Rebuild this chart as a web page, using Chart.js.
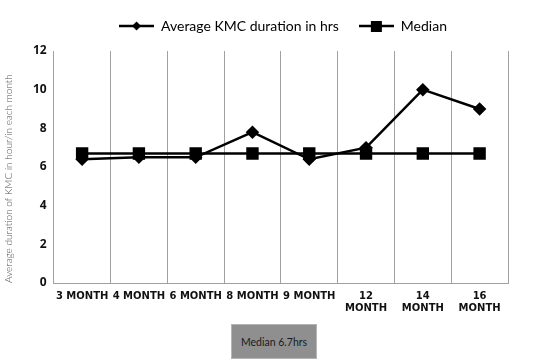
<!DOCTYPE html>
<html>
<head>
<meta charset="utf-8">
<script src="https://cdn.jsdelivr.net/npm/chart.js@4.4.1/dist/chart.umd.min.js"></script>
<style>
  html, body { margin: 0; padding: 0; background: #fff; }
  #wrap { position: relative; width: 550px; height: 359px; }
  canvas { display: block; }
  #note {
    position: absolute; left: 231px; top: 324px; width: 86px; height: 35px;
    background: #8f8f8f; border: 1px solid #b5b5b5; box-sizing: border-box;
    font: 10.5px Lato, sans-serif; color: #1a1a1a;
    display: flex; align-items: center; justify-content: center;
  }
</style>
</head>
<body>
<div id="wrap">
  <canvas id="kmcChart" width="550" height="359"></canvas>
  <div id="note">Median 6.7hrs</div>
</div>
<script>
// chart data
const months = ["3 MONTH", "4 MONTH", "6 MONTH", "8 MONTH", "9 MONTH", ["12", "MONTH"], ["14", "MONTH"], ["16", "MONTH"]];
const avgHours = [6.4, 6.5, 6.5, 7.8, 6.4, 7.0, 10, 9];
const medianHours = [6.7, 6.7, 6.7, 6.7, 6.7, 6.7, 6.7, 6.7];
const yTicks = [0, 2, 4, 6, 8, 10, 12];

// little legend swatch: line with marker in the middle
function swatch(kind) {
  const c = document.createElement("canvas");
  c.width = 35; c.height = 14;
  const g = c.getContext("2d");
  g.strokeStyle = "#000";
  g.lineWidth = 2.5;
  g.beginPath(); g.moveTo(0, 7); g.lineTo(35, 7); g.stroke();
  g.fillStyle = "#000";
  if (kind === "diamond") {
    g.beginPath();
    g.moveTo(17.5, 2.5); g.lineTo(22, 7); g.lineTo(17.5, 11.5); g.lineTo(13, 7);
    g.closePath(); g.fill();
  } else {
    g.fillRect(12, 2, 11, 11);
  }
  return c;
}
const swatches = [swatch("diamond"), swatch("square")];

// the legend in the picture sits a bit right of centre and higher up
const legendShift = {
  id: "legendShift",
  afterLayout(chart) {
    const lg = chart.legend;
    const dx = 283 - (lg.left + lg.right) / 2;
    lg.left += dx;
    lg.right += dx;
    lg.top -= 8;
    lg.bottom -= 8;
  }
};

new Chart(document.getElementById("kmcChart"), {
  type: "line",
  data: {
    labels: months,
    datasets: [{
      label: "Average KMC duration in hrs",
      data: avgHours,
      borderColor: "#000",
      backgroundColor: "#000",
      borderWidth: 2.5,
      pointStyle: "rectRot",
      pointRadius: 5,
      tension: 0
    }, {
      label: "Median",
      data: medianHours,
      borderColor: "#000",
      backgroundColor: "#000",
      borderWidth: 2.5,
      pointStyle: "rect",
      pointRadius: 7,
      tension: 0
    }]
  },
  plugins: [legendShift],
  options: {
    responsive: false,
    animation: false,
    layout: { padding: { left: 3, right: 42, top: 7, bottom: 38 } },
    plugins: {
      tooltip: { enabled: false },
      legend: {
        position: "top",
        labels: {
          usePointStyle: true,
          pointStyleWidth: 35,
          color: "#000",
          padding: 20,
          font: { family: "Lato", size: 14 },
          generateLabels: chart => chart.data.datasets.map((ds, i) => ({
            text: ds.label,
            pointStyle: swatches[i],
            fillStyle: "#000",
            strokeStyle: "#000",
            lineWidth: 0,
            datasetIndex: i,
            hidden: false
          }))
        }
      }
    },
    scales: {
      x: {
        offset: true,
        grid: { display: true, offset: true, color: "#a0a0a0", lineWidth: 1, drawTicks: false },
        border: { color: "#a0a0a0" },
        ticks: {
          color: "#111",
          maxRotation: 0,
          autoSkip: false,
          padding: 7,
          font: { family: "DejaVu Sans", weight: "bold", size: 10 }
        }
      },
      y: {
        min: 0,
        max: 12,
        afterBuildTicks: axis => { axis.ticks = yTicks.map(v => ({ value: v })); },
        grid: { display: false, drawTicks: false },
        border: { color: "#a0a0a0" },
        ticks: {
          color: "#111",
          padding: 7,
          font: { family: "Open Sans", weight: "bold", size: 12 }
        },
        title: {
          display: true,
          align: "start",
          text: "Average duration of KMC in hour/in each month",
          color: "#555",
          padding: { top: 0, bottom: 11 },
          font: { family: "Lato", size: 10, weight: "300" }
        }
      }
    }
  }
});
</script>
</body>
</html>
